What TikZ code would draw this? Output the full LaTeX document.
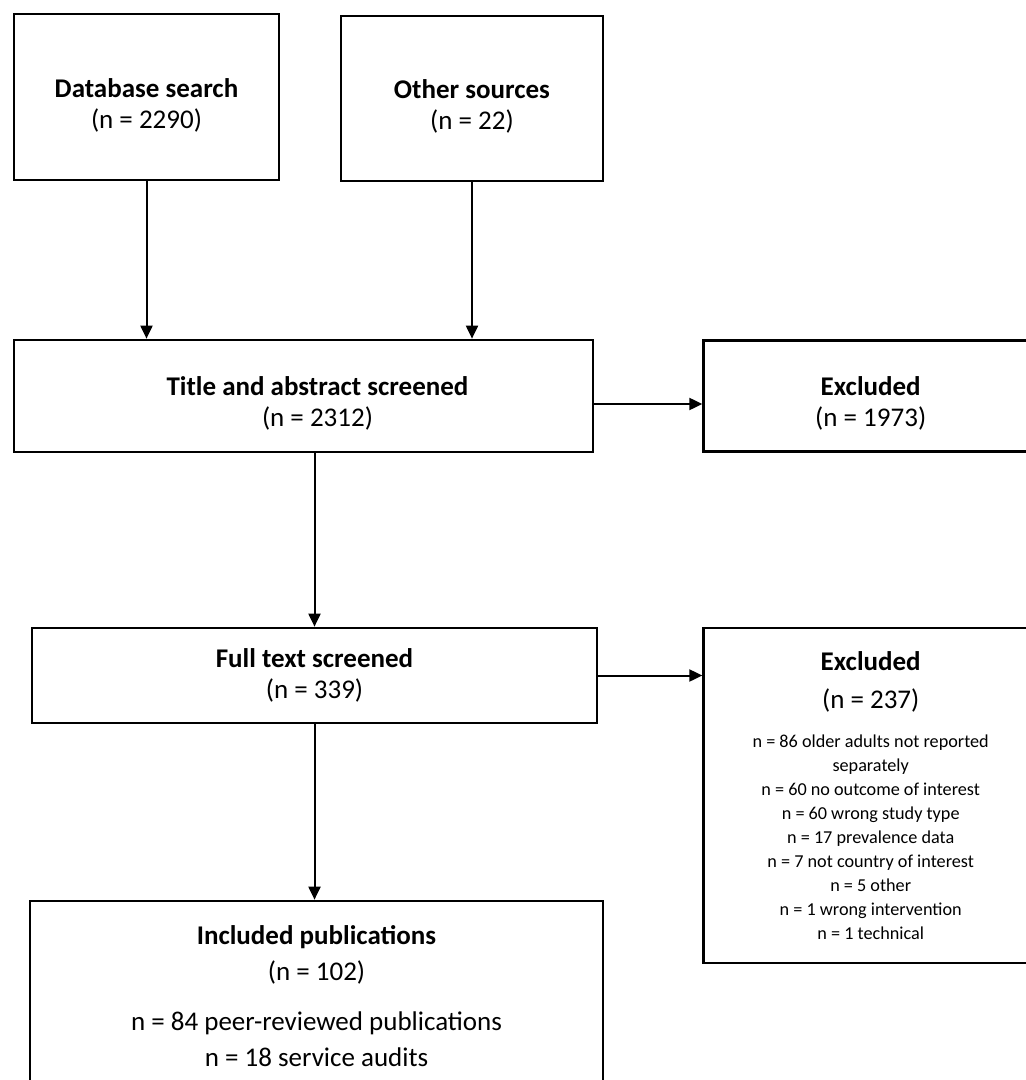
\documentclass[tikz,border=0pt]{standalone}
\usepackage{fontspec}
\setmainfont{Carlito}
\usetikzlibrary{positioning,arrows.meta}

\begin{document}
\begin{tikzpicture}[
    x=0.5pt, y=-0.5pt,
    box/.style={draw=black, line width=1.35pt, align=center, inner sep=0pt, font=\fontsize{13.5}{15.5}\selectfont},
    head/.style={align=center, inner sep=0pt, font=\fontsize{13.5}{19}\selectfont},
    small/.style={align=center, inner sep=0pt, font=\fontsize{9.1}{12.05}\selectfont},
    arr/.style={-{Triangle[length=6.5pt,width=6pt]}, line width=1pt}
  ]
  \useasboundingbox (0,0) rectangle (1026,1080);
  \clip (0,0) rectangle (1026,1080);

  % sources
  \node[box, minimum width=132.5pt, minimum height=83pt, text height=33pt] (db) at (146.5,97) {\textbf{Database search}\\(n = 2290)};
  \node[box, minimum width=131pt, minimum height=82.5pt, text height=33pt] (other) at (472,98.5) {\textbf{Other sources}\\(n = 22)};

  % screening
  \node[box, minimum width=289.5pt, minimum height=56pt, text height=32pt] (title) at (303.5,396) {\hspace*{14pt}\textbf{Title and abstract screened}\\\hspace*{14pt}(n = 2312)};
  \node[box, minimum width=167pt, minimum height=55.5pt, text height=32pt, right=54pt of title] (excl1) {\textbf{Excluded}\\(n = 1973)};

  \node[box, minimum width=282.5pt, minimum height=47.5pt] (full) at (314.5,675.5) {\textbf{Full text screened}\\(n = 339)};
  \node[box, minimum width=167pt, minimum height=167.5pt, right=52pt of full.north east, anchor=north west] (excl2) {};
  \node[head, below=12pt of excl2.north] (excl2h) {\textbf{Excluded}\\(n = 237)};
  \node[small, below=11pt of excl2h] (excl2l) {n = 86 older adults not reported\\separately\\n = 60 no outcome of interest\\n = 60 wrong study type\\n = 17 prevalence data\\n = 7 not country of interest\\n = 5 other\\n = 1 wrong intervention\\n = 1 technical};

  % included
  \node[box, minimum width=286.5pt, minimum height=95pt, font=\fontsize{13.5}{18}\selectfont] (incl) at (316.5,996) {\textbf{Included publications}\\(n = 102)\\[7pt]n = 84 peer-reviewed publications\\n = 18 service audits};

  \draw[arr] (db.south) -- (db.south |- title.north);
  \draw[arr] (other.south) -- (other.south |- title.north);
  \draw[arr] ([yshift=-4pt]title.east) -- ([yshift=-4pt]excl1.west);
  \draw[arr] (full.north |- title.south) -- (full.north);
  \draw[arr] (full.east) -- (full.east -| excl2.west);
  \draw[arr] (full.south) -- (full.south |- incl.north);
\end{tikzpicture}
\end{document}
